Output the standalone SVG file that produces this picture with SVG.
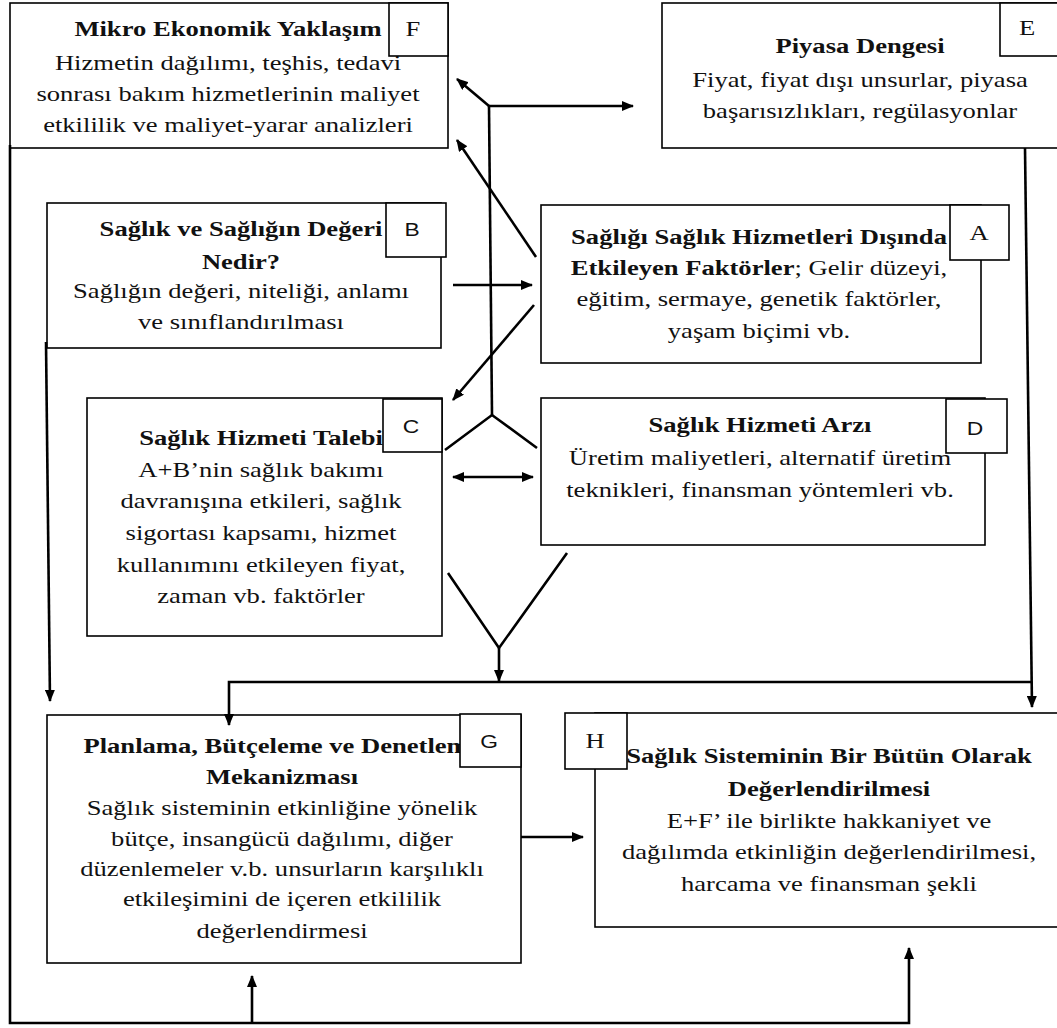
<svg xmlns="http://www.w3.org/2000/svg" width="1057" height="1028" viewBox="0 0 1057 1028">
<style>
.box{fill:#fff;stroke:#000;stroke-width:1.6}
.t{font-family:"Liberation Serif","Times New Roman",serif;font-size:20px;text-anchor:middle;fill:#111}
.b{font-weight:bold}
.s{font-family:"Liberation Sans",Arial,sans-serif;font-size:19px}
.c{fill:none;stroke:#000;stroke-width:2.6;stroke-linejoin:miter}
.a{marker-end:url(#ah)}
</style>
<defs>
<marker id="ah" viewBox="0 0 12 10" refX="11" refY="5" markerWidth="12" markerHeight="10" markerUnits="userSpaceOnUse" orient="auto-start-reverse"><path d="M0,0 L12,5 L0,10 z" fill="#000"/></marker>
</defs>
<rect width="1057" height="1028" fill="#fff"/>

<g id="nodeF">
<rect class="box" x="10" y="3" width="438" height="145"/>
<g class="t" transform="matrix(1.33 0 0 1 228 0)">
<text class="b" y="36">Mikro Ekonomik Yaklaşım</text>
<text y="70">Hizmetin dağılımı, teşhis, tedavi</text>
<text y="101">sonrası bakım hizmetlerinin maliyet</text>
<text y="132">etkililik ve maliyet-yarar analizleri</text>
</g>
<rect class="box" x="389" y="3" width="59" height="53"/>
<text class="t" transform="matrix(1.33 0 0 1 413 0)" y="36">F</text>
</g>

<g id="nodeE">
<rect class="box" x="662" y="3" width="400" height="145"/>
<g class="t" transform="matrix(1.33 0 0 1 860 0)">
<text class="b" y="53">Piyasa Dengesi</text>
<text y="87">Fiyat, fiyat dışı unsurlar, piyasa</text>
<text y="118">başarısızlıkları, regülasyonlar</text>
</g>
<rect class="box" x="1000" y="3" width="62" height="53"/>
<text class="t" transform="matrix(1.33 0 0 1 1027 0)" y="35">E</text>
</g>

<g id="nodeB">
<rect class="box" x="47" y="203" width="394" height="145"/>
<g class="t" transform="matrix(1.33 0 0 1 241 0)">
<text class="b" y="236">Sağlık ve Sağlığın Değeri</text>
<text class="b" y="269">Nedir?</text>
<text y="298">Sağlığın değeri, niteliği, anlamı</text>
<text y="329">ve sınıflandırılması</text>
</g>
<rect class="box" x="386" y="203" width="60" height="54"/>
<text class="t s" transform="matrix(1.2 0 0 1 412 0)" y="236">B</text>
</g>

<g id="nodeA">
<rect class="box" x="541" y="205" width="440" height="158"/>
<g class="t" transform="matrix(1.33 0 0 1 759 0)">
<text class="b" y="244">Sağlığı Sağlık Hizmetleri Dışında</text>
<text y="275"><tspan class="b">Etkileyen Faktörler</tspan>; Gelir düzeyi,</text>
<text y="306">eğitim, sermaye, genetik faktörler,</text>
<text y="338">yaşam biçimi vb.</text>
</g>
<rect class="box" x="950" y="205" width="59" height="55"/>
<text class="t" transform="matrix(1.33 0 0 1 979 0)" y="240">A</text>
</g>

<g id="nodeC">
<rect class="box" x="87" y="398" width="355" height="238"/>
<g class="t" transform="matrix(1.33 0 0 1 261 0)">
<text class="b" y="445">Sağlık Hizmeti Talebi</text>
<text y="477">A+B’nin sağlık bakımı</text>
<text y="508">davranışına etkileri, sağlık</text>
<text y="540">sigortası kapsamı, hizmet</text>
<text y="572">kullanımını etkileyen fiyat,</text>
<text y="603">zaman vb. faktörler</text>
</g>
<rect class="box" x="383" y="399" width="59" height="53"/>
<text class="t s" transform="matrix(1.2 0 0 1 411 0)" y="433">C</text>
</g>

<g id="nodeD">
<rect class="box" x="541" y="398" width="444" height="147"/>
<g class="t" transform="matrix(1.33 0 0 1 760 0)">
<text class="b" y="432">Sağlık Hizmeti Arzı</text>
<text y="465">Üretim maliyetleri, alternatif üretim</text>
<text y="497">teknikleri, finansman yöntemleri vb.</text>
</g>
<rect class="box" x="946" y="399" width="61" height="54"/>
<text class="t s" transform="matrix(1.2 0 0 1 975 0)" y="435">D</text>
</g>

<g id="nodeG">
<rect class="box" x="47" y="715" width="474" height="248"/>
<g class="t" transform="matrix(1.33 0 0 1 282 0)">
<text class="b" y="753">Planlama, Bütçeleme ve Denetleme</text>
<text class="b" y="784">Mekanizması</text>
<text y="815">Sağlık sisteminin etkinliğine yönelik</text>
<text y="846">bütçe, insangücü dağılımı, diğer</text>
<text y="876">düzenlemeler v.b. unsurların karşılıklı</text>
<text y="906">etkileşimini de içeren etkililik</text>
<text y="938">değerlendirmesi</text>
</g>
<rect class="box" x="460" y="714" width="61" height="53"/>
<text class="t s" transform="matrix(1.2 0 0 1 489 0)" y="748">G</text>
</g>

<g id="nodeH">
<rect class="box" x="595" y="713" width="467" height="214"/>
<g class="t" transform="matrix(1.33 0 0 1 829 0)">
<text class="b" y="763">Sağlık Sisteminin Bir Bütün Olarak</text>
<text class="b" y="796">Değerlendirilmesi</text>
<text y="828">E+F’ ile birlikte hakkaniyet ve</text>
<text y="859">dağılımda etkinliğin değerlendirilmesi,</text>
<text y="891">harcama ve finansman şekli</text>
</g>
<rect class="box" x="565" y="713" width="62" height="56"/>
<text class="t" transform="matrix(1.33 0 0 1 595 0)" y="748">H</text>
</g>

<g id="connectors">
<path class="c a" d="M10,145 V1023 H909 V948"/>
<path class="c a" d="M252,1023 V976"/>
<path class="c a" d="M1025,148 L1032,707"/>
<path class="c a" d="M1032,682 H229 V725"/>
<path class="c" d="M448,573 L499,648 L567,553"/>
<path class="c a" d="M499,648 V681"/>
<path class="c" d="M445,450 L492,415 L537,448"/>
<path class="c" d="M492,415 L489,106"/>
<path class="c a" d="M489,106 L457,79"/>
<path class="c a" d="M489,106 H633"/>
<path class="c a" d="M536,257 L457,140"/>
<path class="c a" d="M534,305 L453,400"/>
<path class="c a" d="M453,285 H532"/>
<path class="c a" style="marker-start:url(#ah)" d="M453,477 H533"/>
<path class="c a" d="M46,342 L50,701"/>
<path class="c a" d="M521,837 H583"/>
</g>
</svg>
